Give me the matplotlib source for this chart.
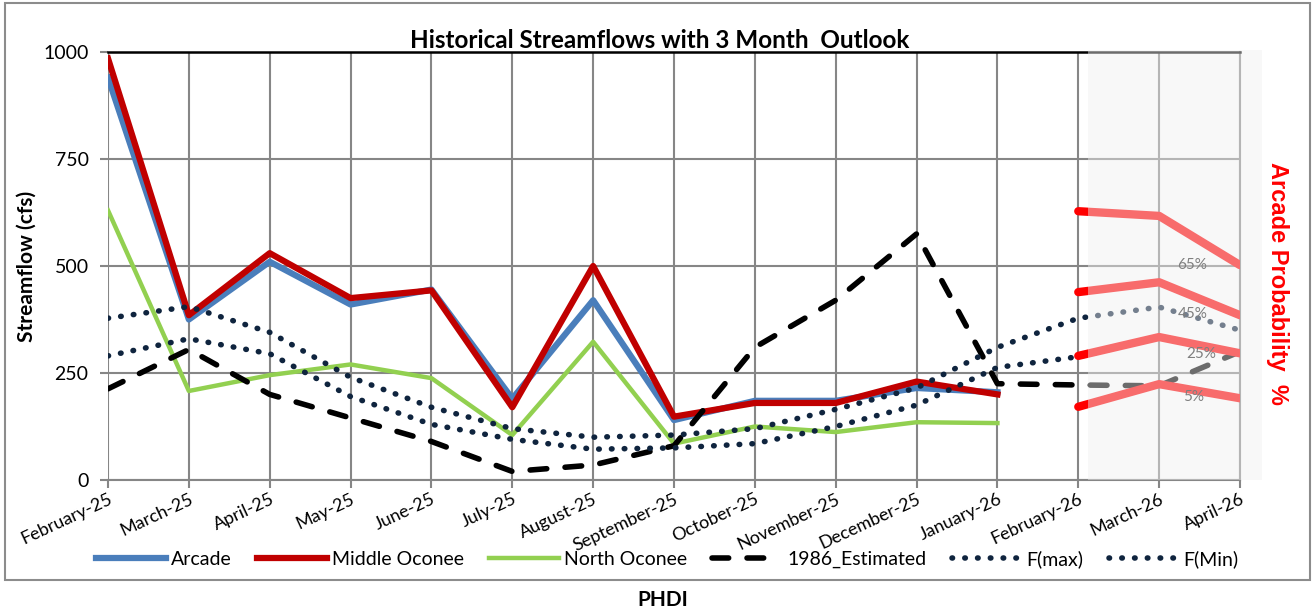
import numpy as np
import matplotlib.pyplot as plt
from matplotlib.patches import Rectangle

plt.rcParams['font.family'] = ['Lato', 'DejaVu Sans']

months = ["February-25", "March-25", "April-25", "May-25", "June-25", "July-25",
          "August-25", "September-25", "October-25", "November-25", "December-25",
          "January-26", "February-26", "March-26", "April-26"]

# observed flows (Feb-25 .. Jan-26)
arcade = [940, 375, 510, 410, 445, 190, 420, 140, 185, 185, 215, 205]
middle_oconee = [985, 385, 530, 425, 443, 170, 500, 148, 180, 180, 230, 200]
north_oconee = [630, 208, 245, 270, 238, 105, 323, 85, 125, 112, 135, 133]

# reference series (Feb-25 .. Apr-26)
est_1986 = [213, 305, 200, 145, 90, 20, 35, 80, 310, 420, 575, 225, 222, 220, 300]
f_max = [378, 405, 345, 240, 170, 120, 100, 105, 120, 165, 215, 310, 378, 404, 350]
f_min = [290, 330, 295, 195, 130, 95, 72, 75, 85, 125, 175, 263, 288, 333, 296]

# outlook (Feb-26 .. Apr-26)
prob_labels = ["65%", "45%", "25%", "5%"]
prob_values = [[628, 617, 502],
               [439, 462, 385],
               [290, 334, 296],
               [171, 224, 191]]
prob_label_pos = [(13.41, 502), (13.41, 387), (13.52, 294), (13.43, 194)]

fig = plt.figure(figsize=(13.12, 6.13), dpi=100)
ax = fig.add_axes([108 / 1312, 1 - 480 / 613, 1132 / 1312, 428 / 613])

x = np.arange(len(months))
xo = x[:len(arcade)]

grid_c = '#868686'
ax.set_xlim(0, 14)
ax.set_ylim(0, 1000)
ax.set_yticks([0, 250, 500, 750, 1000])
ax.set_xticks(x)
ax.grid(True, color=grid_c, lw=1.5, zorder=0)
ax.set_axisbelow(True)
ax.spines['left'].set_visible(False)
ax.spines['bottom'].set_color(grid_c)
ax.spines['bottom'].set_linewidth(1.5)
ax.spines['right'].set_color(grid_c)
ax.spines['right'].set_linewidth(1.5)
ax.spines['top'].set_color('black')
ax.spines['top'].set_linewidth(1.8)
ax.tick_params(axis='both', color=grid_c, width=1.5, length=6)
ax.tick_params(axis='y', labelsize=14, pad=8)
ax.set_xticklabels(months, rotation=25, ha='right', rotation_mode='anchor', fontsize=13)
ax.tick_params(axis='x', pad=2)

ax.plot(xo, arcade, color='#4a7ebb', lw=4.5, label='Arcade', zorder=3)
ax.plot(xo, middle_oconee, color='#c00000', lw=4.5, label='Middle Oconee', zorder=3)
ax.plot(xo, north_oconee, color='#92d050', lw=3.2, label='North Oconee', zorder=3)
ax.plot(x, est_1986, color='black', lw=4, ls=(0, (3.0, 3.3)), dash_capstyle='round',
        label='1986_Estimated', zorder=4)
ax.plot(x, f_max, color='#0f243e', lw=4, ls=(0, (0.1, 2.2)), dash_capstyle='round',
        label='F(max)', zorder=4)
ax.plot(x, f_min, color='#0f243e', lw=4, ls=(0, (0.1, 2.2)), dash_capstyle='round',
        label='F(Min)', zorder=4)

xp = x[12:]
for vals in prob_values:
    ax.plot(xp, vals, color='#ff0000', lw=6, solid_capstyle='round', zorder=5)

# forecast shading over the outlook months
ax.add_patch(Rectangle((12.12, 0), 2.15, 1005, facecolor='#f0f0f0', alpha=0.45,
                       edgecolor='none', zorder=8, clip_on=False))

for lab, (px, py) in zip(prob_labels, prob_label_pos):
    ax.text(px, py, lab, color='#7f7f7f', fontsize=11, ha='center', va='center', zorder=9)

ax.set_ylabel('Streamflow (cfs)', fontsize=15, fontweight='bold', labelpad=5)
ax.set_title('Historical Streamflows with 3 Month  Outlook', fontsize=17.5,
             fontweight='bold', pad=2, x=0.487)

fig.text(1277 / 1312, 1 - 283 / 613, 'Arcade Probability  %', rotation=-90, color='#ff0000',
         fontsize=17, fontweight='bold', family='Liberation Sans', ha='center', va='center')

ax.legend(loc='center left', bbox_to_anchor=(-12 / 1132, (480 - 559) / 428), ncol=6,
          frameon=False, fontsize=14, handlelength=3.6, handletextpad=0.25,
          columnspacing=1.3, borderaxespad=0, borderpad=0)

fig.text(663 / 1312, 1 - 600 / 613, 'PHDI', fontsize=15, fontweight='bold',
         ha='center', va='center')

fig.add_artist(Rectangle((5 / 1312, 1 - 580 / 613), 1305 / 1312, 577 / 613,
                         transform=fig.transFigure, facecolor='none',
                         edgecolor='#8c8c8c', lw=1.5))

fig.savefig('out.png', dpi=100)
